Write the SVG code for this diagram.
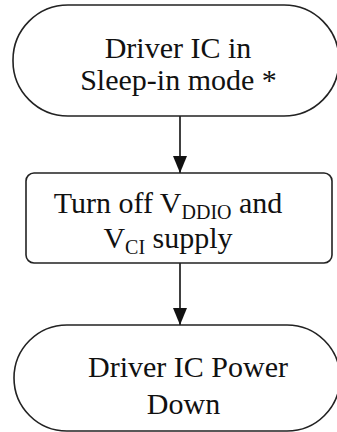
<svg xmlns="http://www.w3.org/2000/svg" width="337" height="432" viewBox="0 0 337 432">
<style>
.shape{fill:#fff;stroke:#222;stroke-width:1.6}
.conn{stroke:#111;stroke-width:1.6;fill:none}
.t{font-size:30px;fill:#111;text-anchor:middle}
.sub{font-size:20px}
</style>
<defs>
<marker id="arr" markerWidth="17" markerHeight="14" refX="17" refY="7" orient="auto" markerUnits="userSpaceOnUse">
<path d="M0,0 L17,7 L0,14 Z" fill="#111"/>
</marker>
</defs>
<rect width="337" height="432" fill="#fff"/>
<g id="connectors">
<line class="conn" x1="180" y1="116" x2="180" y2="173" marker-end="url(#arr)"/>
<line class="conn" x1="180" y1="263" x2="180" y2="325" marker-end="url(#arr)"/>
</g>
<g id="sleep-in">
<rect class="shape" x="13" y="5" width="326" height="111" rx="55" ry="55"/>
<text class="t" font-family="Liberation Serif, Times New Roman, serif" font-size="29" x="178" y="58">Driver IC in<tspan x="178.5" dy="32">Sleep-in mode *</tspan></text>
</g>
<g id="turn-off">
<rect class="shape" x="26" y="173" width="306" height="90" rx="8" ry="8"/>
<text class="t" font-family="Liberation Serif, Times New Roman, serif" x="168" y="213">Turn off V<tspan class="sub" dy="6">DDIO</tspan><tspan dy="-6"> and</tspan><tspan x="168" dy="35">V</tspan><tspan class="sub" dy="6">CI</tspan><tspan dy="-6"> supply</tspan></text>
</g>
<g id="power-down">
<rect class="shape" x="14" y="325" width="326" height="106" rx="53" ry="53"/>
<text class="t" font-family="Liberation Serif, Times New Roman, serif" x="188" y="377">Driver IC Power<tspan x="183.5" dy="37">Down</tspan></text>
</g>
</svg>
